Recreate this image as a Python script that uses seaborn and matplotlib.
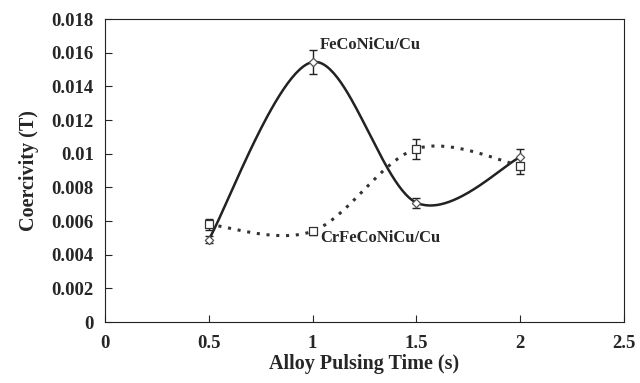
import matplotlib
matplotlib.use("Agg")
import matplotlib.pyplot as plt
import numpy as np
import pandas as pd
import seaborn as sns

# data
time_s = [0.5, 1.0, 1.5, 2.0]
feconicu = [0.0049, 0.01545, 0.0071, 0.0098]
feconicu_err = [0.0002, 0.0007, 0.0003, 0.0005]
crfeconicu = [0.0058, 0.0054, 0.0103, 0.0093]
crfeconicu_err = [0.0003, 0.0002, 0.0006, 0.0005]


def smooth(x, y, n=60):
    # Excel-style smoothed line: cubic Bezier through points (Catmull-Rom handles)
    x = np.asarray(x, float)
    y = np.asarray(y, float)
    P = np.column_stack([x, y])
    P = np.vstack([P[0], P, P[-1]])
    out = []
    t = np.linspace(0, 1, n)[:, None]
    for i in range(1, len(P) - 2):
        p0, p1, p2, p3 = P[i - 1], P[i], P[i + 1], P[i + 2]
        b1 = p1 + (p2 - p0) / 6
        b2 = p2 - (p3 - p1) / 6
        seg = ((1 - t) ** 3) * p1 + 3 * ((1 - t) ** 2) * t * b1 + 3 * (1 - t) * t ** 2 * b2 + t ** 3 * p2
        out.append(seg if i == 1 else seg[1:])
    out = np.vstack(out)
    return out[:, 0], out[:, 1]


sns.set_style("ticks")
plt.rcParams['font.family'] = ['Liberation Serif', 'DejaVu Serif']
plt.rcParams['font.weight'] = 'bold'

fig = plt.figure(figsize=(6.4, 3.83), dpi=100)
ax = fig.add_axes([0.164, 0.159, 0.811, 0.791])

sx, sy = smooth(time_s, feconicu)
ax.plot(sx, sy, color="#222222", lw=1.8, zorder=2)
sx, sy = smooth(time_s, crfeconicu)
ax.plot(sx, sy, color="#333333", lw=2.2, linestyle=(0, (1, 2.2)), zorder=2)

ax.errorbar(time_s, feconicu, yerr=feconicu_err, fmt="none", ecolor="#222222",
            elinewidth=1, capsize=3, capthick=1, zorder=3)
ax.errorbar(time_s, crfeconicu, yerr=crfeconicu_err, fmt="none", ecolor="#222222",
            elinewidth=1, capsize=3, capthick=1, zorder=3)

df1 = pd.DataFrame({"t": time_s, "c": feconicu})
df2 = pd.DataFrame({"t": time_s, "c": crfeconicu})
sns.scatterplot(data=df1, x="t", y="c", marker="D", s=18, facecolor="white",
                edgecolor="#555555", linewidth=0.9, ax=ax, zorder=4)
sns.scatterplot(data=df2, x="t", y="c", marker="s", s=40, facecolor="white",
                edgecolor="#333333", linewidth=0.9, ax=ax, zorder=4)

ax.text(1.035, 0.01645, "FeCoNiCu/Cu", fontsize=12, fontweight="bold", va="center", ha="left")
ax.text(1.035, 0.0050, "CrFeCoNiCu/Cu", fontsize=12, fontweight="bold", va="center", ha="left")

ax.set_xlim(0, 2.5)
ax.set_ylim(0, 0.018)
ax.set_xticks([0, 0.5, 1, 1.5, 2, 2.5])
ax.set_xticklabels(["0", "0.5", "1", "1.5", "2", "2.5"])
ax.set_yticks(np.arange(0, 0.0181, 0.002))
ax.set_yticklabels(["0", "0.002", "0.004", "0.006", "0.008", "0.01", "0.012", "0.014", "0.016", "0.018"])
ax.tick_params(direction="in", length=5, width=0.8, labelsize=13.5, pad=8)
ax.tick_params(axis="x", pad=9)
for lab in ax.get_xticklabels() + ax.get_yticklabels():
    lab.set_fontweight("bold")
for sp in ax.spines.values():
    sp.set_linewidth(0.8)
    sp.set_color("#222222")

ax.set_xlabel("Alloy Pulsing Time (s)", fontsize=14.5, fontweight="bold", labelpad=2)
ax.set_ylabel("Coercivity (T)", fontsize=14.5, fontweight="bold", labelpad=9)

plt.savefig("out.png", dpi=100)
plt.close()
